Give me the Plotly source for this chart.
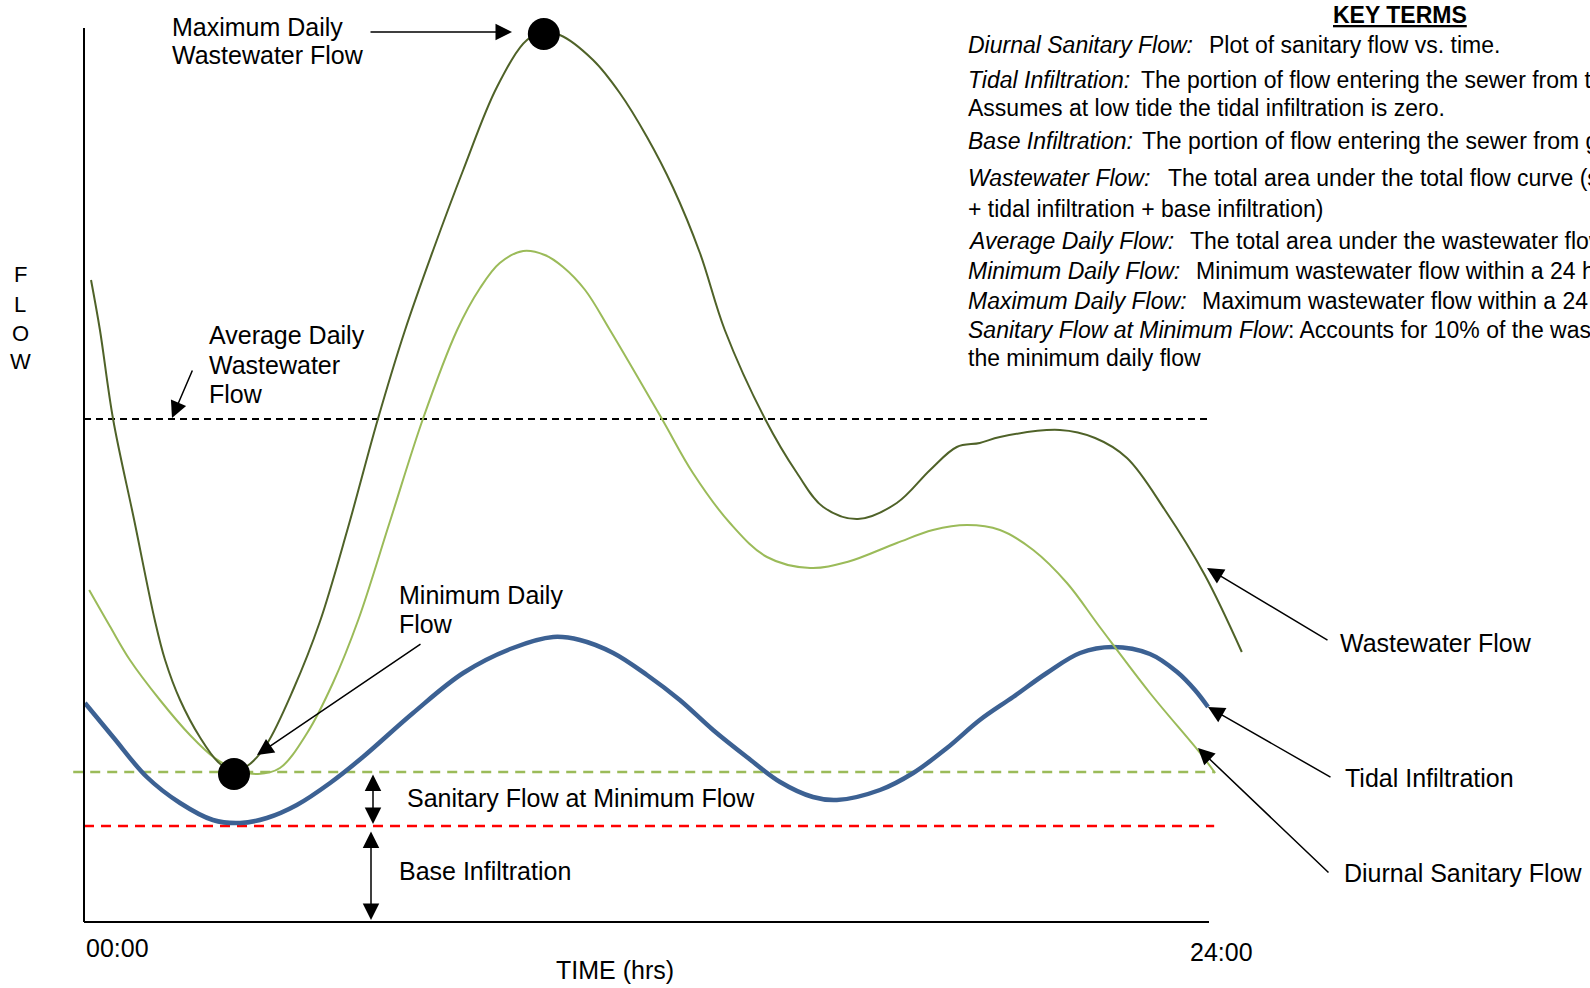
import plotly.graph_objects as go

W, H = 1590, 988
FONT = "Liberation Sans, Arial, sans-serif"

# time in hours (00:00 - 24:00), flow in relative units (schematic diagram)
ww_time = [0.15, 0.34, 0.62, 1.07, 1.51, 1.73, 2.05, 2.47, 2.86, 3.20,
           3.54, 3.90, 4.46, 5.03, 5.63, 6.27, 6.85, 7.45, 8.09, 8.81,
           9.45, 9.81, 10.15, 10.86, 11.43, 12.01, 12.56, 13.14, 13.67, 14.53,
           15.21, 15.77, 16.51, 17.34, 18.05, 18.62, 19.11, 19.54, 20.82, 21.57,
           22.25, 23.06, 23.91, 24.70]
ww_flow = [64.2, 59.2, 50.3, 40.2, 30.2, 26.2, 22.2, 18.5, 16.0, 15.0,
           15.8, 17.8, 23.2, 30.0, 39.4, 50.3, 59.2, 67.2, 75.2, 83.5,
           88.2, 88.9, 88.7, 86.2, 82.9, 78.5, 73.5, 66.9, 59.2, 50.3,
           44.9, 41.5, 40.3, 41.9, 45.2, 47.5, 47.9, 48.5, 49.2, 48.4,
           46.4, 41.2, 34.7, 27.0]

ds_time = [0.11, 0.55, 0.98, 1.62, 2.26, 2.79, 3.33, 3.71, 4.18, 4.76,
           5.31, 5.85, 6.53, 7.23, 7.96, 8.45, 8.87, 9.37, 9.83, 10.22,
           10.69, 11.22, 12.33, 12.99, 13.78, 14.57, 15.49, 16.28, 17.34, 18.11,
           18.84, 19.54, 20.25, 20.97, 21.67, 22.74, 23.81, 24.13]
ds_flow = [33.2, 29.6, 26.2, 22.2, 18.7, 16.4, 15.1, 14.8, 15.4, 18.9,
           23.9, 30.2, 40.1, 50.3, 59.2, 63.4, 65.9, 67.1, 66.7, 65.5,
           63.2, 59.2, 50.3, 44.9, 39.9, 36.5, 35.4, 36.0, 37.9, 39.2,
           39.7, 39.2, 37.2, 33.9, 29.5, 22.9, 16.9, 14.9]

tide_time = [0.02, 0.62, 1.34, 2.05, 2.75, 3.33, 3.90, 4.54, 5.25, 5.95,
             7.02, 8.09, 9.15, 10.01, 10.58, 11.29, 12.01, 12.71, 13.42, 14.14,
             14.85, 15.55, 16.06, 16.98, 17.69, 18.41, 19.11, 19.82, 20.54, 21.25,
             21.95, 22.74, 23.32, 23.70, 23.98]
tide_flow = [21.9, 18.5, 14.5, 11.9, 10.2, 9.9, 10.4, 11.7, 13.9, 16.5,
             20.9, 24.9, 27.4, 28.5, 28.2, 26.9, 24.7, 22.2, 19.2, 16.5,
             14.0, 12.5, 12.2, 13.2, 14.9, 17.4, 20.2, 22.5, 24.9, 26.9,
             27.5, 26.8, 25.0, 23.2, 21.5]

avg_flow = 50.3
avg_span = [0, 23.96]
sanitary_min_flow = 15.0
sanitary_span = [-0.23, 24.13]
base_flow = 9.6
base_span = [0, 24.11]

min_point = [3.20, 14.8]
max_point = [9.81, 88.8]

axis_time = [0, 24]
axis_flow_top = 89.4
x_tick_labels = ["00:00", "24:00"]

key_terms = [
    ("Diurnal Sanitary Flow:", "Plot of sanitary flow vs. time."),
    ("Tidal Infiltration:", "The portion of flow entering the sewer from t"),
    ("", "Assumes at low tide the tidal infiltration is zero."),
    ("Base Infiltration:", "The portion of flow entering the sewer from g"),
    ("Wastewater Flow:", "The total area under the total flow curve (s"),
    ("", "+ tidal infiltration + base infiltration)"),
    ("Average Daily Flow:", "The total area under the wastewater flow"),
    ("Minimum Daily Flow:", "Minimum wastewater flow within a 24 h"),
    ("Maximum Daily Flow:", "Maximum wastewater flow within a 24"),
    ("Sanitary Flow at Minimum Flow", ": Accounts for 10% of the was"),
    ("", "the minimum daily flow"),
]
key_y = [45, 80, 108, 141, 178, 209, 241, 271, 301, 330, 358]
key_desc_x = [1207, 1139, 966, 1140, 1166, 966, 1188, 1194, 1200, 1286, 966]

fig = go.Figure()

fig.add_trace(go.Scatter(x=sanitary_span, y=[sanitary_min_flow] * 2, mode="lines",
                         line=dict(color="#9BBB59", width=2.5, dash="10px,7px")))
fig.add_trace(go.Scatter(x=base_span, y=[base_flow] * 2, mode="lines",
                         line=dict(color="#FF0000", width=2.5, dash="10px,7px")))
fig.add_trace(go.Scatter(x=avg_span, y=[avg_flow] * 2, mode="lines",
                         line=dict(color="black", width=1.8, dash="7px,5px")))
fig.add_trace(go.Scatter(x=tide_time, y=tide_flow, mode="lines",
                         line=dict(color="#3C6193", width=4.5, shape="spline", smoothing=1)))
fig.add_trace(go.Scatter(x=ds_time, y=ds_flow, mode="lines",
                         line=dict(color="#9BBB59", width=2, shape="spline", smoothing=1)))
fig.add_trace(go.Scatter(x=ww_time, y=ww_flow, mode="lines",
                         line=dict(color="#4F6228", width=2, shape="spline", smoothing=1)))
fig.add_trace(go.Scatter(x=[min_point[0], max_point[0]], y=[min_point[1], max_point[1]],
                         mode="markers", marker=dict(color="black", size=32)))

# axes lines
fig.add_shape(type="line", x0=axis_time[0], x1=axis_time[1], y0=0, y1=0,
              line=dict(color="black", width=2))
fig.add_shape(type="line", x0=axis_time[0], x1=axis_time[0], y0=0, y1=axis_flow_top,
              line=dict(color="black", width=2))


def label(text, x, y, size=25, anchor="left", **kw):
    fig.add_annotation(text=text, x=x / W, y=1 - y / H, xref="paper", yref="paper",
                       xanchor=anchor, yanchor="middle", showarrow=False,
                       font=dict(family=FONT, size=size, color="black"), **kw)


def arrow(tail, tip, both=False):
    fig.add_annotation(x=tip[0] / W, y=1 - tip[1] / H, xref="paper", yref="paper",
                       ax=tail[0] - tip[0], ay=tail[1] - tip[1], axref="pixel", ayref="pixel",
                       text="", showarrow=True, arrowhead=2, arrowsize=2.2, arrowwidth=1.5,
                       arrowcolor="black", standoff=0, startstandoff=0,
                       arrowside="end+start" if both else "end",
                       startarrowhead=2, startarrowsize=2.2)


label("Maximum Daily", 170, 26.5)
label("Wastewater Flow", 170, 55)
arrow((369, 32), (512, 32))

label("Average Daily", 207, 335)
label("Wastewater", 207, 365)
label("Flow", 207, 394)
arrow((193, 369), (172, 418))

label("Minimum Daily", 397, 595)
label("Flow", 397, 624)
arrow((422, 643), (257, 755))

label("Sanitary Flow at Minimum Flow", 405, 798)
arrow((373, 773), (373, 824), both=True)
label("Base Infiltration", 397, 871)
arrow((371, 830), (371, 920), both=True)

label("Wastewater Flow", 1338, 643)
arrow((1329, 641), (1207, 568))
label("Tidal Infiltration", 1343, 778)
arrow((1332, 778), (1208, 707))
label("Diurnal Sanitary Flow", 1342, 873)
arrow((1330, 874), (1198, 748))

label(x_tick_labels[0], 84, 948)
label(x_tick_labels[1], 1188, 952)
label("TIME (hrs)", 554, 970)

for ch, yy in zip("FLOW", [274.5, 304.5, 333.5, 361.5]):
    label(ch, 20, yy, size=22, anchor="center")

label("<b><u>KEY TERMS</u></b>", 1400, 15, size=23, anchor="center")
for (term, desc), yy, dx in zip(key_terms, key_y, key_desc_x):
    if term:
        label("<i>" + term + "</i>", 966, yy, size=23)
    label(desc, dx, yy, size=23)

fig.update_layout(
    width=W, height=H, margin=dict(l=0, r=0, t=0, b=0),
    paper_bgcolor="white", plot_bgcolor="white", showlegend=False,
    xaxis=dict(range=[-84 / 46.875, (W - 84) / 46.875], visible=False),
    yaxis=dict(range=[(922 - H) / 10, 92.2], visible=False),
)

fig.write_html("out.html", config={"displayModeBar": False},
               post_script="document.body.style.margin='0';")
